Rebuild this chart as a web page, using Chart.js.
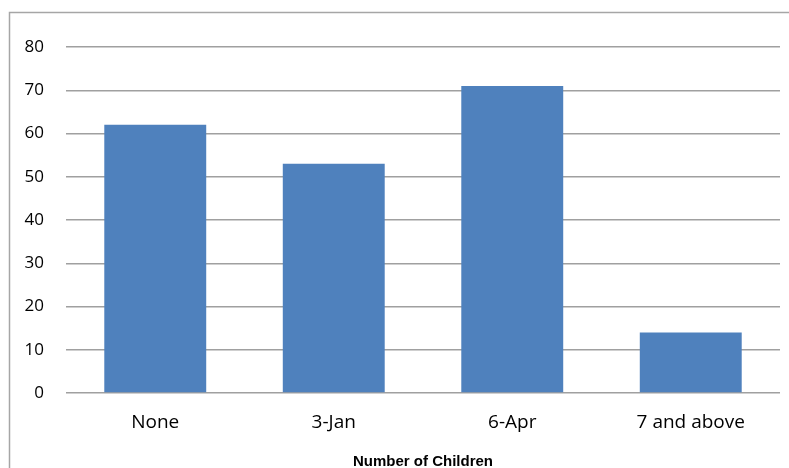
<!DOCTYPE html>
<html>
<head>
<meta charset="utf-8">
<script src="https://cdn.jsdelivr.net/npm/chart.js@4/dist/chart.umd.min.js"></script>
<style>
html,body{margin:0;padding:0;background:#fff;}
#wrap{position:relative;width:789px;height:468px;}
</style>
</head>
<body>
<div id="wrap"><canvas id="c" width="789" height="468"></canvas></div>
<script>
const categories = ["None", "3-Jan", "6-Apr", "7 and above"];
const counts = [62, 53, 71, 14];
const yTicks = [0, 10, 20, 30, 40, 50, 60, 70, 80];
const xTitle = "Number of Children";

const frame = {
  id: 'frame',
  beforeDraw(chart) {
    const ctx = chart.ctx;
    ctx.save();
    ctx.strokeStyle = '#A6A6A6';
    ctx.lineWidth = 1.5;
    ctx.beginPath();
    ctx.moveTo(9.5, 468);
    ctx.lineTo(9.5, 12.5);
    ctx.lineTo(789, 12.5);
    ctx.stroke();
    ctx.restore();
  }
};

new Chart(document.getElementById('c'), {
  type: 'bar',
  data: {
    labels: categories,
    datasets: [{
      data: counts,
      backgroundColor: '#4F81BD',
      borderWidth: 0,
      categoryPercentage: 1,
      barPercentage: 0.571
    }]
  },
  options: {
    responsive: false,
    animation: false,
    devicePixelRatio: 1,
    layout: { padding: { left: 0, right: 9, top: 47, bottom: 0 } },
    plugins: { legend: { display: false }, tooltip: { enabled: false } },
    scales: {
      x: {
        grid: { display: false, drawTicks: false },
        border: { display: false },
        ticks: {
          color: '#000',
          font: { family: 'Open Sans', size: 19 },
          padding: 18,
          maxRotation: 0
        },
        title: {
          display: true,
          text: xTitle,
          color: '#000',
          font: { family: '"Liberation Sans", Arial, sans-serif', size: 15, weight: 'bold' },
          padding: { top: 10, bottom: -3 }
        },
        afterFit(scale) { scale.height = 75; }
      },
      y: {
        min: 0,
        max: 80,
        afterBuildTicks(scale) { scale.ticks = yTicks.map(v => ({ value: v })); },
        grid: { color: '#A0A0A0', lineWidth: 1.5, drawTicks: false },
        border: { display: false },
        ticks: {
          color: '#000',
          font: { family: 'Open Sans', size: 17 },
          padding: 22
        },
        afterFit(scale) { scale.width = 66; }
      }
    }
  },
  plugins: [frame]
});
</script>
</body>
</html>
